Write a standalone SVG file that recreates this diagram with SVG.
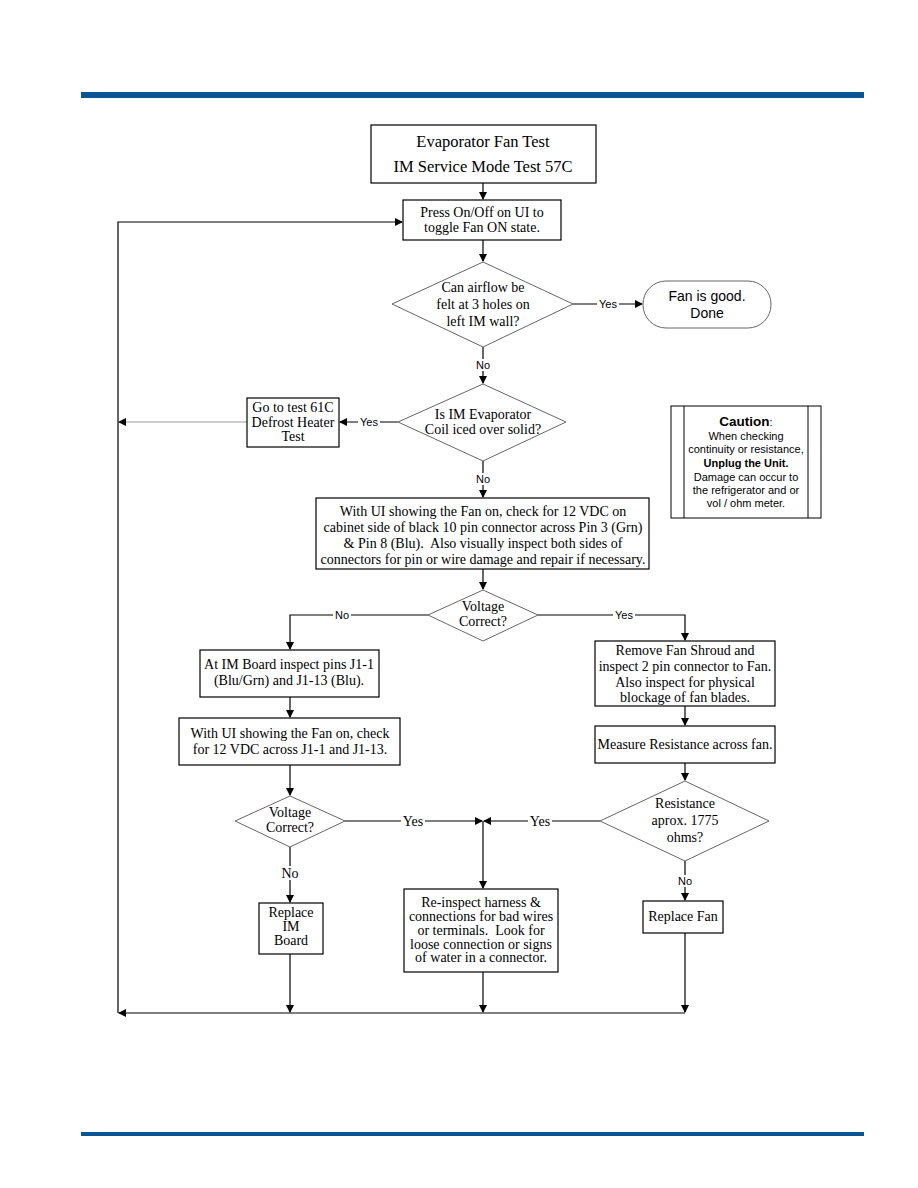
<svg xmlns="http://www.w3.org/2000/svg" width="918" height="1188" viewBox="0 0 918 1188">
<defs>
<marker id="ah" markerWidth="8" markerHeight="8" refX="7" refY="4" orient="auto" markerUnits="userSpaceOnUse">
<path d="M0,0 L8,4 L0,8 Z" fill="#000"/>
</marker>
<style>
.box{fill:#fff;stroke:#000;stroke-width:1.2}
.dia{fill:#fff;stroke:#666;stroke-width:1}
.ln{fill:none;stroke:#000;stroke-width:1.2}
.gl{fill:none;stroke:#999;stroke-width:1.2}
.t{font-family:"Liberation Serif",serif;font-size:14px;fill:#000;text-anchor:middle}
.tt{font-family:"Liberation Serif",serif;font-size:16.5px;fill:#000;text-anchor:middle}
.s{font-family:"Liberation Sans",Arial,sans-serif;font-size:11px;fill:#000;text-anchor:middle}
.sb{font-family:"Liberation Sans",Arial,sans-serif;font-size:14px;fill:#000;text-anchor:middle}
.lb{fill:#fff}
</style>
</defs>
<rect width="918" height="1188" fill="#fff"/>
<rect x="81" y="92" width="783" height="6" fill="#0a5594"/>
<rect x="81" y="1132" width="783" height="4" fill="#0a5594"/>

<g id="connectors">
<path class="ln" d="M483,183 V199" marker-end="url(#ah)"/>
<path class="ln" d="M483,240 V261" marker-end="url(#ah)"/>
<path class="ln" d="M573,304 H642" marker-end="url(#ah)"/>
<rect class="lb" x="597" y="298" width="22" height="12"/>
<text class="s" x="608" y="308">Yes</text>
<path class="ln" d="M483,347 V383" marker-end="url(#ah)"/>
<rect class="lb" x="474" y="359" width="18" height="12"/>
<text class="s" x="483" y="369">No</text>
<path class="ln" d="M398,422 H340" marker-end="url(#ah)"/>
<rect class="lb" x="358" y="416" width="22" height="12"/>
<text class="s" x="369" y="426">Yes</text>
<path class="gl" d="M247,422 H119"/>
<path d="M118,422 L126,418 L126,426 Z" fill="#000"/>
<path class="ln" d="M483,461 V497" marker-end="url(#ah)"/>
<rect class="lb" x="474" y="473" width="18" height="12"/>
<text class="s" x="483" y="483">No</text>
<path class="ln" d="M483,569 V589" marker-end="url(#ah)"/>
<path class="ln" d="M428,615 H290 V649" marker-end="url(#ah)"/>
<rect class="lb" x="333" y="609" width="18" height="12"/>
<text class="s" x="342" y="619">No</text>
<path class="ln" d="M538,615 H685 V640" marker-end="url(#ah)"/>
<rect class="lb" x="613" y="609" width="22" height="12"/>
<text class="s" x="624" y="619">Yes</text>
<path class="ln" d="M290,697 V717" marker-end="url(#ah)"/>
<path class="ln" d="M290,765 V795" marker-end="url(#ah)"/>
<path class="ln" d="M685,706 V725" marker-end="url(#ah)"/>
<path class="ln" d="M685,763 V780" marker-end="url(#ah)"/>
<path class="ln" d="M345,821 H482" marker-end="url(#ah)"/>
<rect class="lb" x="401" y="814" width="24" height="14"/>
<text class="t" x="413" y="826">Yes</text>
<path class="ln" d="M600,821 H484" marker-end="url(#ah)"/>
<rect class="lb" x="528" y="814" width="24" height="14"/>
<text class="t" x="540" y="826">Yes</text>
<path class="ln" d="M483,821 V888" marker-end="url(#ah)"/>
<path class="ln" d="M290,847 V902" marker-end="url(#ah)"/>
<rect class="lb" x="281" y="866" width="18" height="14"/>
<text class="t" x="290" y="878">No</text>
<path class="ln" d="M685,861 V900" marker-end="url(#ah)"/>
<rect class="lb" x="676" y="875" width="18" height="12"/>
<text class="s" x="685" y="885">No</text>
<path class="ln" d="M290,954 V1012" marker-end="url(#ah)"/>
<path class="ln" d="M483,972 V1012" marker-end="url(#ah)"/>
<path class="ln" d="M685,933 V1012" marker-end="url(#ah)"/>
<path class="ln" d="M685,1013 H119"/>
<path d="M118,1013 L126,1009 L126,1017 Z" fill="#000"/>
<path class="ln" d="M118,1013 V222 H402" marker-end="url(#ah)"/>
</g>

<g id="n-title">
<rect class="box" x="371" y="125" width="225" height="58"/>
<text class="tt" x="483" y="147">Evaporator Fan Test</text>
<text class="tt" x="483" y="172">IM Service Mode Test 57C</text>
</g>
<g id="n-press">
<rect class="box" x="403" y="200" width="158" height="40"/>
<text class="t" x="482" y="217">Press On/Off on UI to</text>
<text class="t" x="482" y="232">toggle Fan ON state.</text>
</g>
<g id="n-airflow">
<polygon class="dia" points="483,262 573,304 483,347 392,304"/>
<text class="t" x="483" y="292">Can airflow be</text>
<text class="t" x="483" y="309">felt at 3 holes on</text>
<text class="t" x="483" y="326">left IM wall?</text>
</g>
<g id="n-done">
<rect x="643" y="281" width="128" height="47" rx="23" ry="23" fill="#fff" stroke="#666" stroke-width="1"/>
<text class="sb" x="707" y="301">Fan is good.</text>
<text class="sb" x="707" y="318">Done</text>
</g>
<g id="n-iced">
<polygon class="dia" points="483,384 566,422 483,461 398,422"/>
<text class="t" x="483" y="419">Is IM Evaporator</text>
<text class="t" x="483" y="434">Coil iced over solid?</text>
</g>
<g id="n-test61">
<rect class="box" x="247" y="398" width="92" height="49"/>
<text class="t" x="293" y="412">Go to test 61C</text>
<text class="t" x="293" y="427">Defrost Heater</text>
<text class="t" x="293" y="441">Test</text>
</g>
<g id="n-caution">
<rect x="671" y="406" width="150" height="112" fill="#fff" stroke="#000" stroke-width="1"/>
<line x1="684" y1="406" x2="684" y2="518" stroke="#000" stroke-width="1"/>
<line x1="808" y1="406" x2="808" y2="518" stroke="#000" stroke-width="1"/>
<text class="s" x="746" y="426"><tspan font-weight="bold" font-size="13.5px">Caution</tspan>:</text>
<text class="s" x="746" y="440">When checking</text>
<text class="s" x="746" y="453">continuity or resistance,</text>
<text class="s" x="746" y="467" font-weight="bold">Unplug the Unit.</text>
<text class="s" x="746" y="481">Damage can occur to</text>
<text class="s" x="746" y="494">the refrigerator and or</text>
<text class="s" x="746" y="507">vol / ohm meter.</text>
</g>
<g id="n-check12">
<rect class="box" x="316" y="498" width="333" height="71"/>
<text class="t" x="483" y="516">With UI showing the Fan on, check for 12 VDC on</text>
<text class="t" x="483" y="532">cabinet side of black 10 pin connector across Pin 3 (Grn)</text>
<text class="t" x="483" y="548">&amp; Pin 8 (Blu).&#160; Also visually inspect both sides of</text>
<text class="t" x="483" y="564">connectors for pin or wire damage and repair if necessary.</text>
</g>
<g id="n-volt1">
<polygon class="dia" points="483,590 538,615 483,641 428,615"/>
<text class="t" x="483" y="611">Voltage</text>
<text class="t" x="483" y="626">Correct?</text>
</g>
<g id="n-imboard">
<rect class="box" x="200" y="650" width="179" height="47"/>
<text class="t" x="289" y="669">At IM Board inspect pins J1-1</text>
<text class="t" x="289" y="685">(Blu/Grn) and J1-13 (Blu).</text>
</g>
<g id="n-check13">
<rect class="box" x="179" y="718" width="221" height="47"/>
<text class="t" x="290" y="738">With UI showing the Fan on, check</text>
<text class="t" x="290" y="754">for 12 VDC across J1-1 and J1-13.</text>
</g>
<g id="n-volt2">
<polygon class="dia" points="290,796 345,821 290,847 235,821"/>
<text class="t" x="290" y="817">Voltage</text>
<text class="t" x="290" y="832">Correct?</text>
</g>
<g id="n-replaceim">
<rect class="box" x="259" y="903" width="64" height="51"/>
<text class="t" x="291" y="917">Replace</text>
<text class="t" x="291" y="931">IM</text>
<text class="t" x="291" y="945">Board</text>
</g>
<g id="n-shroud">
<rect class="box" x="595" y="641" width="180" height="65"/>
<text class="t" x="685" y="655">Remove Fan Shroud and</text>
<text class="t" x="685" y="671">inspect 2 pin connector to Fan.</text>
<text class="t" x="685" y="687">Also inspect for physical</text>
<text class="t" x="685" y="702">blockage of fan blades.</text>
</g>
<g id="n-measure">
<rect class="box" x="595" y="726" width="180" height="37"/>
<text class="t" x="685" y="749">Measure Resistance across fan.</text>
</g>
<g id="n-resist">
<polygon class="dia" points="685,781 769,821 685,861 600,821"/>
<text class="t" x="685" y="808">Resistance</text>
<text class="t" x="685" y="825">aprox. 1775</text>
<text class="t" x="685" y="842">ohms?</text>
</g>
<g id="n-replacefan">
<rect class="box" x="643" y="901" width="80" height="32"/>
<text class="t" x="683" y="921">Replace Fan</text>
</g>
<g id="n-reinspect">
<rect class="box" x="404" y="889" width="154" height="83"/>
<text class="t" x="481" y="907">Re-inspect harness &amp;</text>
<text class="t" x="481" y="921">connections for bad wires</text>
<text class="t" x="481" y="935">or terminals.&#160; Look for</text>
<text class="t" x="481" y="949">loose connection or signs</text>
<text class="t" x="481" y="962">of water in a connector.</text>
</g>
</svg>
